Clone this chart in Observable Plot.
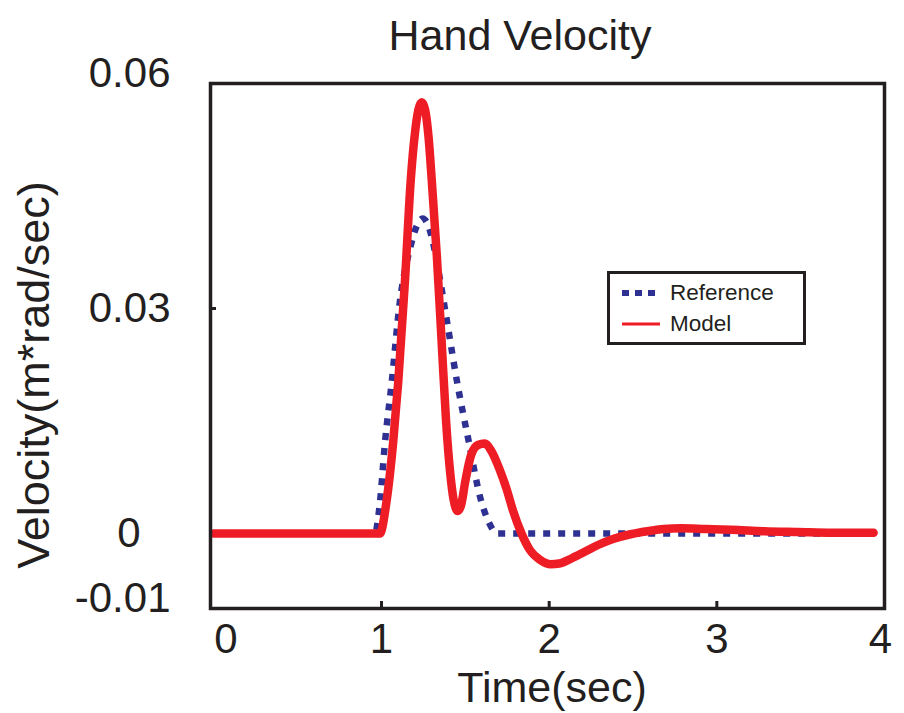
<!DOCTYPE html>
<html>
<head>
<meta charset="utf-8">
<script src="https://cdn.jsdelivr.net/npm/d3@7"></script>
<script src="https://cdn.jsdelivr.net/npm/@observablehq/plot@0.6"></script>
<style>
  html, body { margin: 0; padding: 0; background: #fff; }
  #wrap { position: relative; width: 904px; height: 713px; font-family: "Liberation Sans", Arial, sans-serif; color: #231f20; }
  #wrap svg { position: absolute; left: 0; top: 0; }
  .lbl { position: absolute; white-space: nowrap; font-size: 42px; line-height: 1; }
  #legend { position: absolute; left: 607px; top: 271px; width: 193px; height: 68px; border: 3px solid #231f20; background: #fff; font-size: 22.5px; }
  #legend .row { position: absolute; left: 10px; display: flex; align-items: center; }
  #legend .row span { margin-left: 10px; }
</style>
</head>
<body>
<div id="wrap">
  <div class="lbl" id="title" style="left:520px; top:14px; font-size:43px; transform: translateX(-50%);">Hand Velocity</div>
  <div class="lbl" id="ylab" style="left:33px; top:375px; font-size:45px; transform: translate(-50%,-50%) rotate(-90deg);">Velocity(m*rad/sec)</div>
  <div class="lbl" id="xlab" style="left:552px; top:666px; font-size:43px; transform: translateX(-50%);">Time(sec)</div>
  <div id="legend">
    <div class="row" style="top:6px;"><svg width="40" height="16" style="position:static"><line x1="2" y1="8" x2="40" y2="8" stroke="#2e3192" stroke-width="6" stroke-dasharray="7 6"/></svg><span>Reference</span></div>
    <div class="row" style="top:37px;"><svg width="40" height="16" style="position:static"><line x1="2" y1="8" x2="40" y2="8" stroke="#ee1c25" stroke-width="3"/></svg><span>Model</span></div>
  </div>
</div>
<script>
// Reference (blue dotted) hand velocity
const refTime = [0, 0.96, 0.99, 1.02, 1.06, 1.11, 1.17, 1.21, 1.245, 1.28, 1.31, 1.35, 1.40, 1.45, 1.52, 1.59, 1.64, 1.69, 3.935];
const refVel  = [0, 0, 0.004, 0.012, 0.020, 0.031, 0.038, 0.041, 0.042, 0.041, 0.0385, 0.0337, 0.027, 0.0203, 0.0123, 0.0047, 0.0015, 0, 0];

// Model (red solid) hand velocity
const modelTime = [0, 0.99, 1.03, 1.07, 1.10, 1.14, 1.174, 1.20, 1.22, 1.24, 1.26, 1.28, 1.30, 1.33, 1.36, 1.385, 1.41, 1.43, 1.455, 1.475, 1.50, 1.535, 1.575, 1.615, 1.655, 1.705, 1.745, 1.785, 1.835, 1.885, 1.945, 2.01, 2.06, 2.135, 2.215, 2.295, 2.385, 2.485, 2.585, 2.685, 2.785, 2.935, 3.085, 3.285, 3.485, 3.685, 3.935];
const modelVel  = [0, 0, 0.0043, 0.0123, 0.0203, 0.0337, 0.047, 0.0535, 0.0565, 0.0575, 0.0565, 0.053, 0.047, 0.037, 0.025, 0.015, 0.008, 0.0045, 0.003, 0.0038, 0.007, 0.0105, 0.0118, 0.012, 0.011, 0.0085, 0.006, 0.003, 0, -0.0022, -0.0035, -0.0041, -0.004, -0.0033, -0.0024, -0.0015, -0.0007, -0.0001, 0.0003, 0.0006, 0.0007, 0.0006, 0.0005, 0.0003, 0.0002, 0.0001, 0.0001];

// Axis ticks and labels
const xInnerTicks = [1, 2, 3];
const yTicks = [-0.01, 0, 0.03, 0.06];
const yTickLabels = ["-0.01", "0", "0.03", "0.06"];

const refData = refTime.map((t, i) => ({t, v: refVel[i]}));
const modelData = modelTime.map((t, i) => ({t, v: modelVel[i]}));
const yFmt = d => yTickLabels[yTicks.indexOf(d)];

const chart = Plot.plot({
  width: 904,
  height: 713,
  marginLeft: 210,
  marginRight: 20,
  marginTop: 83,
  marginBottom: 105,
  style: {fontFamily: "'Liberation Sans', Arial, sans-serif", color: "#231f20", background: "transparent"},
  x: {domain: [-0.02, 4], label: null},
  y: {domain: [-0.01, 0.06], label: null},
  marks: [
    // inward tick marks
    Plot.axisX(xInnerTicks, {anchor: "bottom", tickSize: 7, dy: -7, tickFormat: () => "", strokeWidth: 3, stroke: "#231f20"}),
    Plot.axisY([yTicks[2]], {anchor: "left", tickSize: 6, dx: 6, tickFormat: () => "", strokeWidth: 3, stroke: "#231f20"}),
    // tick labels
    Plot.axisX(xInnerTicks, {anchor: "bottom", tickSize: 0, tickPadding: 15, fontSize: 42, tickFormat: d => String(d)}),
    Plot.axisX([0], {anchor: "bottom", tickSize: 0, tickPadding: 15, fontSize: 42, dx: 12, tickFormat: d => String(d)}),
    Plot.axisX([4], {anchor: "bottom", tickSize: 0, tickPadding: 15, fontSize: 42, dx: -4, tickFormat: d => String(d)}),
    Plot.axisY([yTicks[2]], {anchor: "left", tickSize: 0, tickPadding: 40, fontSize: 42, tickFormat: yFmt}),
    Plot.axisY([yTicks[1]], {anchor: "left", tickSize: 0, tickPadding: 40, fontSize: 42, dx: -30, tickFormat: yFmt}),
    Plot.axisY([yTicks[0], yTicks[3]], {anchor: "left", tickSize: 0, tickPadding: 40, fontSize: 42, dy: -10, tickFormat: yFmt}),
    // data
    Plot.line(refData, {x: "t", y: "v", stroke: "#2e3192", strokeWidth: 6.5, strokeDasharray: "7 8", curve: "monotone-x", strokeLinecap: "butt"}),
    Plot.line(modelData, {x: "t", y: "v", stroke: "#ee1c25", strokeWidth: 8.5, curve: "monotone-x", strokeLinecap: "round"}),
    Plot.frame({stroke: "#231f20", strokeWidth: 3.5})
  ]
});
document.getElementById("wrap").prepend(chart);
</script>
</body>
</html>
